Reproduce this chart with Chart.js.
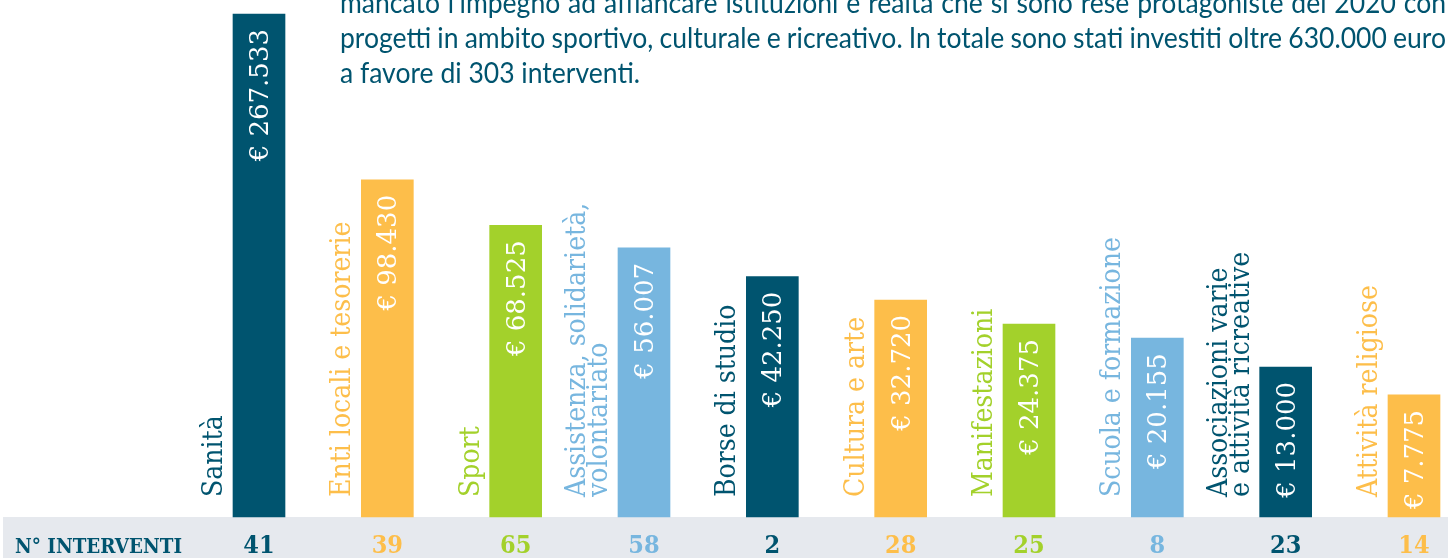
<!DOCTYPE html>
<html><head><meta charset="utf-8">
<script src="https://cdn.jsdelivr.net/npm/chart.js@4.4.0/dist/chart.umd.min.js"></script>
<style>html,body{margin:0;padding:0;background:#fff;overflow:hidden}canvas{display:block}</style>
</head><body>
<canvas id="c" width="1448" height="558"></canvas>
<script>
// ---- data ----
const categories = [
  'Sanità',
  'Enti locali e tesorerie',
  'Sport',
  ['Assistenza, solidarietà,', 'volontariato'],
  'Borse di studio',
  'Cultura e arte',
  'Manifestazioni',
  'Scuola e formazione',
  ['Associazioni varie', 'e attività ricreative'],
  'Attività religiose'
];
const amounts = [267533, 98430, 68525, 56007, 42250, 32720, 24375, 20155, 13000, 7775];
const interventi = [41, 39, 65, 58, 2, 28, 25, 8, 23, 14];
const rowTitle = 'N° INTERVENTI';
const introLines = [
  "mancato l'impegno ad affiancare istituzioni e realtà che si sono rese protagoniste del 2020 con",
  'progetti in ambito sportivo, culturale e ricreativo. In totale sono stati investiti oltre 630.000 euro',
  'a favore di 303 interventi.'
];

// ---- styles ----
const DARK = '#00546f', ORANGE = '#fdbe4a', GREEN = '#a3d12b', BLUE = '#77b6df';
const barColors = [DARK, ORANGE, GREEN, BLUE, DARK, ORANGE, GREEN, BLUE, DARK, ORANGE];
const fmtEuro = v => '€ ' + String(v).replace(/\B(?=(\d{3})+(?!\d))/g, '.');

// power (non-linear) value scale used by the infographic
const EXP = 0.4;
class PowerScale extends Chart.LinearScale {
  _f(v) { return Math.pow(Math.max(v, 0), EXP); }
  getPixelForValue(value) {
    const a = this._f(this.min), b = this._f(this.max);
    return this.getPixelForDecimal((this._f(value) - a) / (b - a));
  }
  getValueForPixel(pixel) {
    const a = this._f(this.min), b = this._f(this.max);
    const d = this.getDecimalForPixel(pixel);
    return Math.pow(a + d * (b - a), 1 / EXP);
  }
}
PowerScale.id = 'power';
PowerScale.defaults = Chart.LinearScale.defaults;
Chart.register(PowerScale);

function drawJustified(ctx, text, x, y, width, s) {
  const words = text.split(' ');
  const ww = words.map(w => ctx.measureText(w).width * s);
  const total = ww.reduce((a, b) => a + b, 0);
  const gap = (width - total) / (words.length - 1);
  let cx = x;
  words.forEach((w, i) => {
    ctx.save(); ctx.translate(cx, y); ctx.scale(s, 1); ctx.fillText(w, 0, 0); ctx.restore();
    cx += ww[i] + gap;
  });
}

const decor = {
  id: 'decor',
  beforeDraw(chart) {
    const ctx = chart.ctx;
    ctx.save();
    // bottom band
    ctx.fillStyle = '#e6e9ee';
    ctx.fillRect(3, chart.chartArea.bottom, chart.width - 3, chart.height - chart.chartArea.bottom);
    // intro paragraph
    ctx.fillStyle = DARK;
    ctx.font = '29px Lato';
    ctx.textBaseline = 'alphabetic';
    ctx.textAlign = 'left';
    const s = 300 / ctx.measureText(introLines[2]).width;
    const ys = [13, 48, 83];
    drawJustified(ctx, introLines[0], 340, ys[0], 1106, s);
    drawJustified(ctx, introLines[1], 340, ys[1], 1106, s);
    ctx.save(); ctx.translate(340, ys[2]); ctx.scale(s, 1); ctx.fillText(introLines[2], 0, 0); ctx.restore();
    ctx.restore();
  },
  afterDatasetsDraw(chart) {
    const ctx = chart.ctx;
    const meta = chart.getDatasetMeta(0);
    ctx.save();
    ctx.textBaseline = 'alphabetic';
    meta.data.forEach((el, i) => {
      const left = el.x - el.width / 2;
      // value label inside bar
      ctx.save();
      ctx.fillStyle = '#ffffff';
      ctx.font = '26px "DejaVu Serif"';
      ctx.textAlign = 'right';
      ctx.translate(el.x + 9, el.y + 15);
      ctx.rotate(-Math.PI / 2);
      ctx.fillText(fmtEuro(amounts[i]), 0, 0);
      ctx.restore();
      // category label
      const lines = Array.isArray(categories[i]) ? categories[i] : [categories[i]];
      lines.forEach((ln, j) => {
        ctx.save();
        ctx.fillStyle = barColors[i];
        ctx.font = '28px "DejaVu Serif"';
        ctx.textAlign = 'left';
        ctx.translate(left - 11 - (lines.length - 1 - j) * 22, el.base - 20);
        ctx.rotate(-Math.PI / 2);
        ctx.scale(0.9, 1);
        ctx.fillText(ln, 0, 0);
        ctx.restore();
      });
      // interventions count
      ctx.save();
      ctx.fillStyle = barColors[i];
      ctx.font = 'bold 25px "DejaVu Serif"';
      ctx.textAlign = 'center';
      ctx.translate(el.x, 553);
      ctx.scale(0.9, 1);
      ctx.fillText(String(interventi[i]), 0, 0);
      ctx.restore();
    });
    // row title
    ctx.fillStyle = DARK;
    ctx.font = 'bold 20px "DejaVu Serif"';
    ctx.textAlign = 'left';
    const sw = 167 / ctx.measureText(rowTitle).width;
    ctx.translate(15, 553);
    ctx.scale(sw, 1);
    ctx.fillText(rowTitle, 0, 0);
    ctx.restore();
  }
};

new Chart(document.getElementById('c'), {
  type: 'bar',
  data: {
    labels: categories,
    datasets: [{
      data: amounts,
      backgroundColor: barColors,
      barThickness: 52,
      borderWidth: 0,
      clip: false
    }]
  },
  options: {
    responsive: false,
    animation: false,
    layout: { padding: { left: 259, right: 34, top: 14, bottom: 41 } },
    plugins: { legend: { display: false }, tooltip: { enabled: false } },
    scales: {
      x: { type: 'category', offset: false, display: false, grid: { display: false } },
      y: { type: 'power', min: 0, max: 267533, display: false, grid: { display: false } }
    }
  },
  plugins: [decor]
});
</script>
</body></html>
